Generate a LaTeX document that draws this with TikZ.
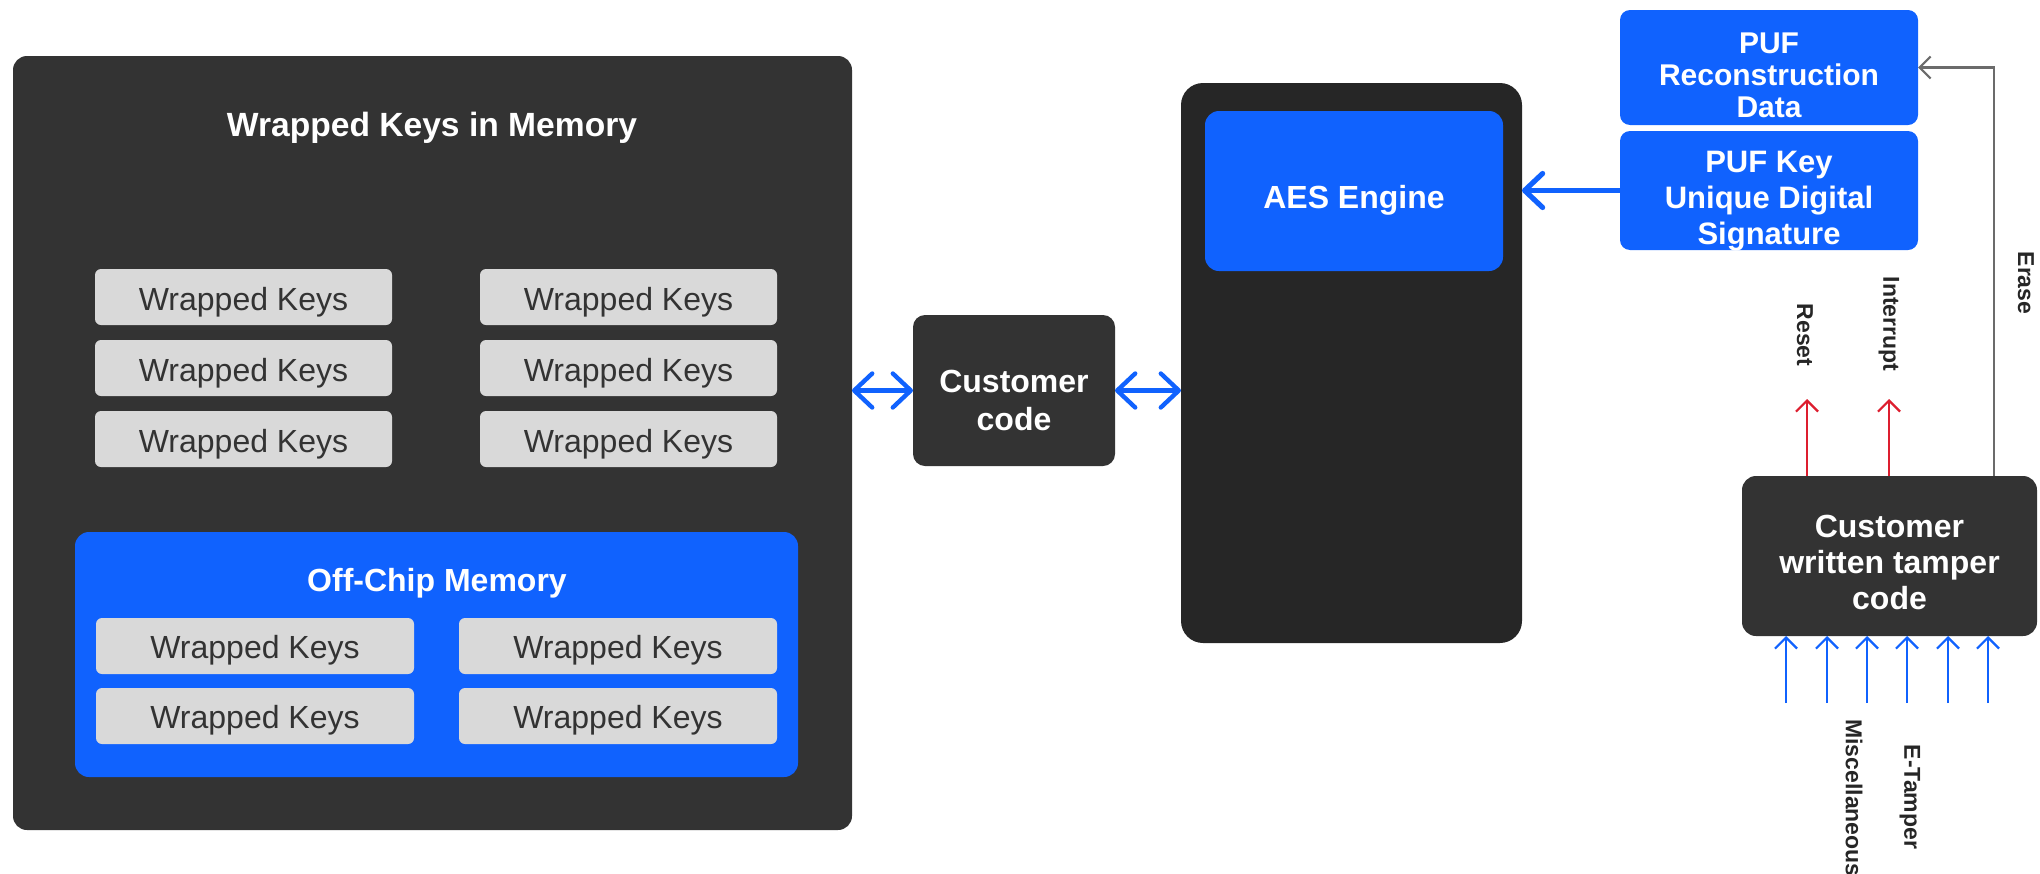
\documentclass[tikz,border=0pt]{standalone}
\usepackage{fontspec}
\setmainfont{Liberation Sans}
\usetikzlibrary{arrows.meta}
\definecolor{panel}{HTML}{333333}
\definecolor{engine}{HTML}{262626}
\definecolor{chipblue}{HTML}{1062FE}
\definecolor{keygray}{HTML}{D9D9D9}
\definecolor{sigred}{HTML}{DD1E2F}
\definecolor{erasegray}{HTML}{6B6B6B}
\tikzset{
  panelbox/.style={fill=panel,rounded corners=7pt,inner sep=0pt,outer sep=0pt},
  keybox/.style={fill=keygray,rounded corners=3pt,inner sep=0pt,outer sep=0pt,
    minimum width=148.5pt,minimum height=28pt,text=panel,font=\fontsize{16}{18}\selectfont,
    text height=13.8pt,text depth=0pt},
  offkeybox/.style={keybox,minimum width=159pt,text height=12.8pt},
  bluebox/.style={fill=chipblue,rounded corners=5pt,inner sep=0pt,outer sep=0pt},
  boxtext/.style={text=white,align=center,font=\fontsize{16}{19}\selectfont\bfseries},
  sidelabel/.style={rotate=-90,text=black!85,font=\fontsize{11.5}{13}\selectfont\bfseries},
  busarrow/.style={draw=chipblue,line width=2.2pt,line cap=round,{Straight Barb[round,length=9pt,width=17pt]}-{Straight Barb[round,length=9pt,width=17pt]}},
  keyarrow/.style={draw=chipblue,line width=2.6pt,line cap=round,-{Straight Barb[round,length=9pt,width=17pt]}},
  thinarrow/.style={line width=1.1pt,-{Straight Barb[length=5.5pt,width=11pt]}}
}
\begin{document}
\begin{tikzpicture}[x=0.5pt,y=-0.5pt]
\useasboundingbox (0,0) rectangle (2040,873);
% memory side
\node[panelbox,minimum width=419.5pt,minimum height=387pt] (mem) at (432.5,443) {};
\node[boxtext,font=\fontsize{16.8}{20}\selectfont\bfseries] (memtitle) at (432,128) {Wrapped Keys in Memory};
\node[keybox] (wk1) at (243.5,297) {Wrapped Keys};
\node[keybox] (wk2) at (243.5,368) {Wrapped Keys};
\node[keybox] (wk3) at (243.5,439) {Wrapped Keys};
\node[keybox] (wk4) at (628.5,297) {Wrapped Keys};
\node[keybox] (wk5) at (628.5,368) {Wrapped Keys};
\node[keybox] (wk6) at (628.5,439) {Wrapped Keys};
\node[bluebox,rounded corners=7pt,minimum width=361.5pt,minimum height=122.5pt] (offchip) at (436.5,654.5) {};
\node[boxtext] (offtitle) at (437,583) {Off-Chip Memory};
\node[offkeybox] (ok1) at (255,646) {Wrapped Keys};
\node[offkeybox] (ok2) at (255,716) {Wrapped Keys};
\node[offkeybox] (ok3) at (618,646) {Wrapped Keys};
\node[offkeybox] (ok4) at (618,716) {Wrapped Keys};
% customer code and engine
\node[panelbox,rounded corners=6pt,minimum width=101pt,minimum height=75.5pt] (cust) at (1014,390.5) {};
\node[boxtext] (custtext) at ([yshift=-4.9pt]cust.center) {Customer\\code};
\node[panelbox,fill=engine,rounded corners=11pt,minimum width=170.5pt,minimum height=280pt] (aes) at (1351.5,363) {};
\node[bluebox,rounded corners=7pt,minimum width=149pt,minimum height=80pt,boxtext,text height=17.1pt,text depth=0pt] (aeseng) at (1354,191) {AES Engine};
\draw[busarrow] (cust.west -| mem.east) -- (cust.west);
\draw[busarrow] (cust.east) -- (cust.east -| aes.west);
% PUF blocks
\node[bluebox,minimum width=149pt,minimum height=57.5pt] (pufrec) at (1769,67.5) {};
\node[boxtext,font=\fontsize{15}{16}\selectfont\bfseries] (pufrectext) at ([yshift=-3.9pt]pufrec.center) {PUF\\Reconstruction\\Data};
\node[bluebox,minimum width=149pt,minimum height=59.5pt] (pufkey) at (1769,190.5) {};
\node[boxtext,font=\fontsize{15.5}{18}\selectfont\bfseries] (pufkeytext) at ([yshift=-5.2pt]pufkey.center) {PUF Key\\Unique Digital\\Signature};
\draw[keyarrow] (pufkey.west) -- (pufkey.west -| aes.east);
% tamper block
\node[panelbox,rounded corners=7pt,minimum width=147.5pt,minimum height=80pt] (tamper) at (1889.5,556) {};
\node[boxtext,font=\fontsize{16}{18}\selectfont\bfseries] (tampertext) at ([yshift=-3.3pt]tamper.center) {Customer\\written tamper\\code};
\coordinate (rst) at (1807,399);
\coordinate (irq) at (1889,399);
\coordinate (ers) at (1994,62);
\draw[thinarrow,draw=sigred] (tamper.north -| rst) -- (rst);
\draw[thinarrow,draw=sigred] (tamper.north -| irq) -- (irq);
\draw[thinarrow,draw=erasegray] (tamper.north -| ers) |- (pufrec.east);
\node[sidelabel] (rstlabel) at (1805,335) {Reset};
\node[sidelabel] (irqlabel) at (1889,324) {Interrupt};
\node[sidelabel] (erslabel) at (2026,283) {Erase};
% tamper inputs
\coordinate (in1) at (1786,703);
\coordinate (in2) at (1827,703);
\coordinate (in3) at (1867,703);
\coordinate (in4) at (1907,703);
\coordinate (in5) at (1948,703);
\coordinate (in6) at (1988,703);
\draw[thinarrow,draw=chipblue] (in1) -- (in1 |- tamper.south);
\draw[thinarrow,draw=chipblue] (in2) -- (in2 |- tamper.south);
\draw[thinarrow,draw=chipblue] (in3) -- (in3 |- tamper.south);
\draw[thinarrow,draw=chipblue] (in4) -- (in4 |- tamper.south);
\draw[thinarrow,draw=chipblue] (in5) -- (in5 |- tamper.south);
\draw[thinarrow,draw=chipblue] (in6) -- (in6 |- tamper.south);
\node[sidelabel] (misclabel) at (1854,798) {Miscellaneous};
\node[sidelabel] (etlabel) at (1910,797) {E-Tamper};
\end{tikzpicture}
\end{document}
